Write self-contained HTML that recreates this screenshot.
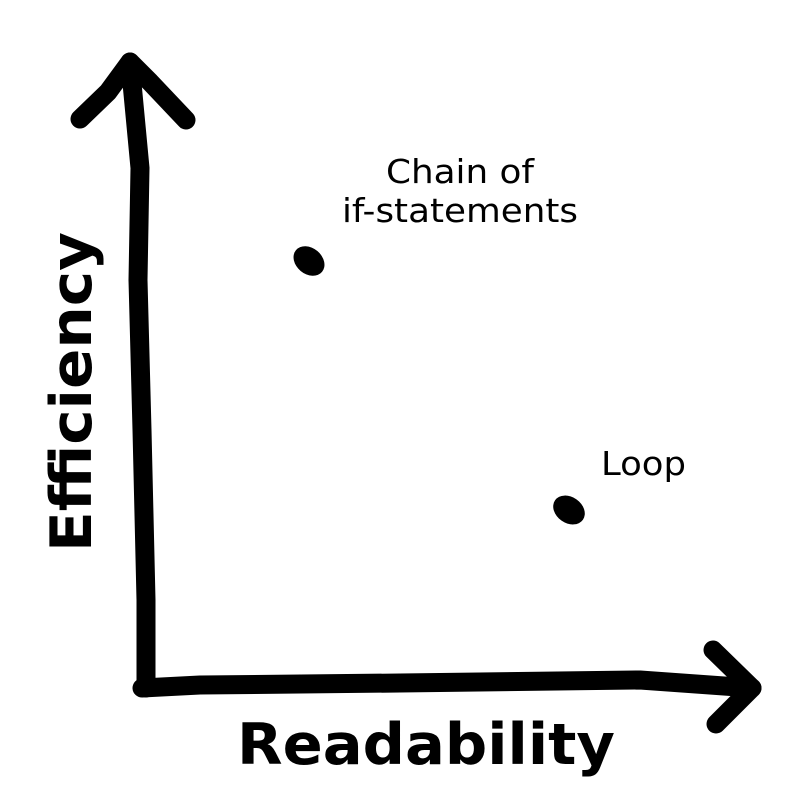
<!DOCTYPE html>
<html><head><meta charset="utf-8"><style>html,body{margin:0;padding:0;background:#fff}</style></head>
<body>
<svg width="800" height="800" viewBox="0 0 800 800" xmlns="http://www.w3.org/2000/svg">
<rect width="800" height="800" fill="#fff"/>
<g fill="none" stroke="#000" stroke-width="19" stroke-linecap="round" stroke-linejoin="round">
<polyline points="80,119 108,92 130,62 140,168 138,280 142,430 146,600 146,688"/>
<polyline points="130,62 150,82 186,120"/>
<polyline points="142,688 200,685 400,683 640,680 752,688"/>
<polyline points="713,650 752,688 716,724"/>
</g>
<ellipse cx="309" cy="261" rx="17" ry="13" transform="rotate(40 309 261)" fill="#000"/>
<ellipse cx="569" cy="510" rx="17" ry="13" transform="rotate(35 569 510)" fill="#000"/>
<g font-family="DejaVu Sans, sans-serif" fill="#000">
<text x="386" y="183" font-size="33" textLength="148" lengthAdjust="spacingAndGlyphs">Chain of</text>
<text x="342" y="222" font-size="33" textLength="236" lengthAdjust="spacingAndGlyphs">if-statements</text>
<text x="601" y="475" font-size="33" textLength="85" lengthAdjust="spacingAndGlyphs">Loop</text>
<text x="237" y="764" font-size="57" font-weight="bold" textLength="378" lengthAdjust="spacingAndGlyphs">Readability</text>
<text x="0" y="0" font-size="57" font-weight="bold" textLength="320" lengthAdjust="spacingAndGlyphs" transform="translate(91,552) rotate(-90)">Efficiency</text>
</g>
</svg>
</body></html>
